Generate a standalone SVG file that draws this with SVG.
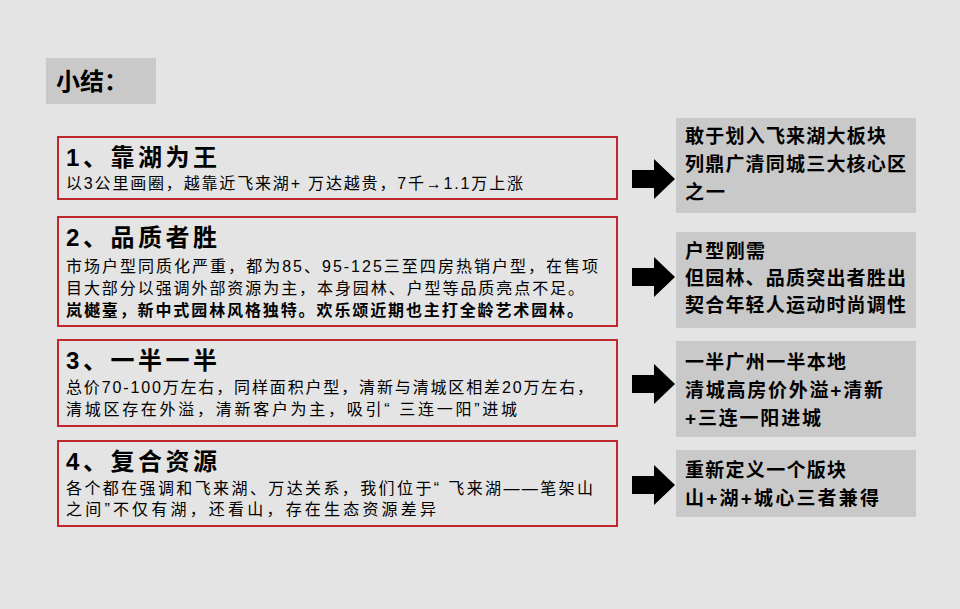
<svg xmlns="http://www.w3.org/2000/svg" width="960" height="609" viewBox="0 0 960 609">
<style>
text{font-family:"Liberation Sans","Noto Sans CJK SC",sans-serif;fill:#000}
.box{fill:#e4e4e4;stroke:#c0272d;stroke-width:2}
.rb{fill:#c9c9c9}
.h{font-size:24px;font-weight:bold}
.t{font-size:16px}
.r{font-size:19px;font-weight:bold}
</style>
<rect width="960" height="609" fill="#e4e4e4"/>
<g id="title"><rect x="46" y="58" width="110" height="46" fill="#c9c9c9"/><text x="56" y="90" style="font-size:24px;font-weight:bold">小结：</text></g>
<g id="n1"><rect class="box" x="58" y="137" width="559" height="62"/><text class="h" x="66" y="166" textLength="151">1、靠湖为王</text><text class="t" x="66" y="189" textLength="457">以3公里画圈，越靠近飞来湖+ 万达越贵，7千→1.1万上涨</text></g>
<g id="n2"><rect class="box" x="58" y="217" width="559" height="109"/><text class="h" x="66" y="246" textLength="151">2、品质者胜</text><text class="t" x="66" y="272" textLength="532">市场户型同质化严重，都为85、95-125三至四房热销户型，在售项</text><text class="t" x="66" y="294" textLength="518">目大部分以强调外部资源为主，本身园林、户型等品质亮点不足。</text><text class="t" x="66" y="316" font-weight="bold" textLength="517">岚樾臺，新中式园林风格独特。欢乐颂近期也主打全龄艺术园林。</text></g>
<g id="n3"><rect class="box" x="58" y="340" width="559" height="86"/><text class="h" x="66" y="369" textLength="151">3、一半一半</text><text class="t" x="66" y="393" textLength="527">总价70-100万左右，同样面积户型，清新与清城区相差20万左右，</text><text class="t" x="66" y="415" textLength="451">清城区存在外溢，清新客户为主，吸引“ 三连一阳”进城</text></g>
<g id="n4"><rect class="box" x="58" y="441" width="559" height="85"/><text class="h" x="66" y="470" textLength="151">4、复合资源</text><text class="t" x="66" y="494" textLength="527">各个都在强调和飞来湖、万达关系，我们位于“ 飞来湖——笔架山</text><text class="t" x="66" y="515" textLength="370">之间”不仅有湖，还看山，存在生态资源差异</text></g>
<g id="connectors">
<polygon points="632,170 654,170 654,159 675,179 654,199 654,188 632,188"/>
<polygon points="632,268 654,268 654,257 675,277 654,297 654,286 632,286"/>
<polygon points="632,375 654,375 654,364 675,384 654,404 654,393 632,393"/>
<polygon points="632,476 654,476 654,465 675,485 654,505 654,494 632,494"/>
</g>
<g id="r1"><rect class="rb" x="676" y="118" width="240" height="95"/><text class="r" x="685" y="143" textLength="201">敢于划入飞来湖大板块</text><text class="r" x="685" y="171" textLength="221">列鼎广清同城三大核心区</text><text class="r" x="685" y="199" textLength="40">之一</text></g>
<g id="r2"><rect class="rb" x="676" y="232" width="240" height="96"/><text class="r" x="685" y="258" textLength="80">户型刚需</text><text class="r" x="685" y="285" textLength="221">但园林、品质突出者胜出</text><text class="r" x="685" y="312" textLength="221">契合年轻人运动时尚调性</text></g>
<g id="r3"><rect class="rb" x="676" y="341" width="240" height="96"/><text class="r" x="685" y="369" textLength="161">一半广州一半本地</text><text class="r" x="685" y="397" textLength="198">清城高房价外溢+清新</text><text class="r" x="685" y="425" textLength="136">+三连一阳进城</text></g>
<g id="r4"><rect class="rb" x="676" y="450" width="240" height="67"/><text class="r" x="685" y="477" textLength="161">重新定义一个版块</text><text class="r" x="685" y="505" textLength="194">山+湖+城心三者兼得</text></g>
</svg>
